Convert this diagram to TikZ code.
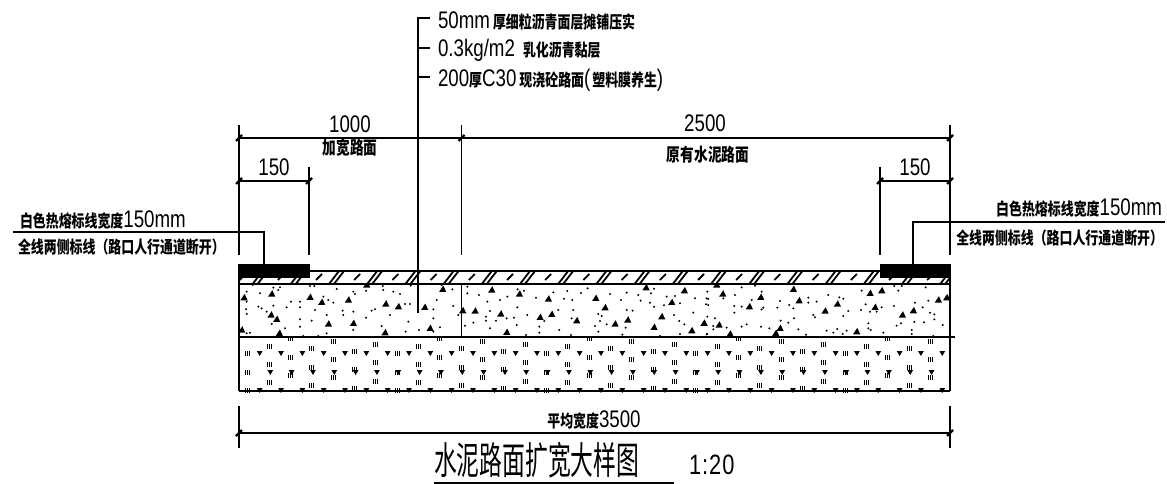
\documentclass[tikz,border=0pt]{standalone}
\usepackage{fontspec}
\newfontfamily\latf[FakeStretch=0.78]{Liberation Sans}
\newfontfamily\cjkf[FakeStretch=0.76]{Noto Sans CJK SC}
\newfontfamily\ttlf[FakeStretch=0.6]{Noto Sans CJK SC}
\newcommand\LT[2][24]{{\fontsize{#1}{#1}\selectfont\latf #2}}
\newcommand\CT[2][17]{{\fontsize{#1}{#1}\selectfont\cjkf\bfseries #2}}
\tikzset{
  ln/.style={line width=1.7pt,black},
  thin ln/.style={line width=1.8pt,black},
  dimtick/.style={line width=2.4pt,black},
  lbl/.style={inner sep=0pt,outer sep=0pt,anchor=west,text=black},
  cl/.style={inner sep=0pt,outer sep=0pt,anchor=center,text=black},
}
\newcommand\dtick[2]{\draw[dimtick] (#1-3,#2+3) -- (#1+3,#2-3);}
\begin{document}
\begin{tikzpicture}[x=1pt,y=-1pt]
\useasboundingbox (0,0) rectangle (1167,484);
\fill[white] (0,0) rectangle (1167,484);

% ---- hatch layer
\begin{scope}
\clip (239,271) rectangle (950,284);
\foreach \k in {-3,...,17}{
  \pgfmathsetmacro\xx{335+38.2*\k}
  \draw[thin ln] ({\xx-6},284) -- ({\xx+4},271);
  \draw[thin ln] ({\xx-1},284) -- ({\xx+9},271);
  \draw[thin ln] ({\xx-19},280) -- ({\xx-13},274);
}
\end{scope}

% ---- upper concrete aggregate
\begin{scope}
\clip (239,284) rectangle (950,337);
\foreach \a/\b in {72/143,155/132,153/195,170/208,178/250,270/142,305/157,385/150,325/222,400/220,440/105,497/162,535/170,495/248,614/172,630/235,668/118,728/182,65/240}
  \fill ({220+\a/3},{250+\b/3}) ++(-3.6,2.6) -- ++(7.2,0) -- ++(-3,-6.4) -- cycle;
\foreach \a/\b in {125/90,208/102,295/117,437/115,465/143,75/153,152/162,305/163,270/172,380/182,533/180,495/192,635/170,612/202,665/127,703/92,588/83,762/190,725/212,170/217}
  \fill ({450+\a/3},{260+\b/3}) ++(-3.6,2.6) -- ++(7.2,0) -- ++(-3,-6.4) -- cycle;
\foreach \a/\b in {68/102,182/112,148/140,280/88,297/122,375/153,412/132,510/100,545/92,525/142,607/165,640/152,715/120,740/113,12/190,57/195,90/222,227/220,240/205,470/215,50/75}
  \fill ({700+\a/3},{260+\b/3}) ++(-3.6,2.6) -- ++(7.2,0) -- ++(-3,-6.4) -- cycle;
\foreach \a/\b in {80/125,80/155,120/130,180/112,160/113,98/105,175/120,270/108,283/108,350/117,400/125,405/132,438/122,488/108,490/120,520/125,540/132,572/107,650/150,665/105,697/118,213/155,200/172,240/155,240/172,285/180,310/140,325/150,340/158,115/170,125/175,160/167,140/185,78/178,80/192,240/208,275/212,320/195,368/182,370/195,400/185,438/203,455/182,465/178,555/162,570/162,510/195,565/215,240/230,155/222,195/235,320/250,295/258,400/240,485/228,557/245,597/240,640/205,660/232,700/168,715/195,640/245,90/248,80/250,250/258,525/262,640/178}
  \fill ({220+\a/3},{250+\b/3}) circle (1.15);
\foreach \a/\b in {52/80,52/100,87/105,112/125,150/120,172/110,222/92,203/88,258/113,310/97,352/93,393/99,413/85,342/116,367/120,480/102,530/98,513/120,565/105,572/122,603/100,612/86,600/128,612/140,650/110,675/108,690/130,735/115,770/115,120/153,108/170,108/182,138/182,170/175,192/173,202/142,232/165,370/150,325/150,445/162,455/168,435/198,470/193,445/215,530/150,548/152,527/203,672/165,688/183,703/193,730/158,775/135,45/197,70/188,120/205,200/195,268/200,268/218,328/210,283/183,365/175,363/225,228/225,450/183,517/224,630/228,690/222,772/222,642/136}
  \fill ({450+\a/3},{260+\b/3}) circle (1.15);
\foreach \a/\b in {22/95,25/117,18/133,105/105,125/82,165/77,185/95,155/120,70/115,103/138,125/140,103/158,190/143,185/148,240/123,232/143,268/135,280/145,325/113,325/128,350/125,385/105,418/112,430/116,485/92,497/133,483/150,510/155,530/155,545/142,582/138,595/92,583/78,605/78,677/82,645/128,685/122,668/142,690/158,703/163,703/178,672/187,643/186,603/190,590/197,728/195,22/170,45/175,40/198,40/208,80/203,125/200,140/193,183/200,208/205,242/182,265/188,282/175,295/208,318/224,345/172,340/165,380/212,400/218,412/207,428/222,440/212,430/168,445/153,505/190,505/205,512/210,550/218,635/210,635/222,700/228,20/223}
  \fill ({700+\a/3},{260+\b/3}) circle (1.15);
\end{scope}

% ---- lower base aggregate
\begin{scope}
\clip (239,337) rectangle (950,392);
\foreach \k in {0,...,33}{
  \pgfmathsetmacro\cx{round(248.3+21.33*\k)}
  \pgfmathsetmacro\off{{313,290,268,298,275,306,285}[mod(\k,7)]}
  \foreach \r in {0,1,2}{
    \pgfmathsetmacro\cy{round(250+\off/3+18.3*\r)}
    \foreach \d in {-3,-1,1}
      \fill ({\cx+\d},{\cy-3}) rectangle ({\cx+\d+1.05},{\cy+2});
  }
  \fill ({259.7+21.33*\k-2.9},351) -- ++(5.8,0) -- ++(-2.9,5) -- cycle;
  \fill ({270.3+21.33*\k-2.9},370) -- ++(5.8,0) -- ++(-2.9,5) -- cycle;
  \fill ({259.7+21.33*\k-2.9},388) -- ++(5.8,0) -- ++(-2.9,5) -- cycle;
}
\end{scope}

% ---- layer outlines
\draw[ln] (239,271) -- (950,271);
\draw[ln] (239,284) -- (950,284);
\draw[ln] (239,337) -- (955,337);
\draw[ln] (239,391) -- (950,391);
\draw[ln] (239,264) -- (239,391);
\draw[ln] (950,264) -- (950,391);
\draw[ln] (461.5,284) -- (461.5,337);

% ---- thermal marking bars
\fill[black] (238.5,263.5) rectangle (309.5,278);
\fill[black] (879.5,263.5) rectangle (950.5,278);

% ---- layer leader
\draw[ln] (418,313) -- (418,18) -- (430,18);
\draw[ln] (418,48) -- (430,48);
\draw[ln] (418,77) -- (430,77);
\node[lbl] (t1) at (438,21) {\LT{50mm}\hspace{3pt}\CT{厚细粒沥青面层摊铺压实}};
\node[lbl] (t2) at (438,50) {\LT{0.3kg/m2}\hspace{8pt}\CT{乳化沥青黏层}};
\node[lbl] (t3) at (438,80) {\LT{200}\CT{厚}\LT{C30}\hspace{3pt}\CT{现浇砼路面}\LT{(}\hspace{2pt}\CT{塑料膜养生}\LT{)}};

% ---- dimensions
\draw[ln] (239,125) -- (239,255);
\draw[ln] (950,125) -- (950,255);
\draw[ln] (461.5,125) -- (461.5,255);
\draw[ln] (309,167) -- (309,255);
\draw[ln] (880,167) -- (880,255);
\draw[ln] (239,138) -- (950,138);
\draw[ln] (239,181) -- (309,181);
\draw[ln] (880,181) -- (950,181);
\dtick{239}{138}\dtick{461.5}{138}\dtick{950}{138}
\dtick{239}{181}\dtick{309}{181}\dtick{880}{181}\dtick{950}{181}
\node[cl] (d1000) at (350,124) {\LT{1000}};
\node[cl] (d2500) at (705,123) {\LT{2500}};
\node[cl] (dl150) at (274,167) {\LT{150}};
\node[cl] (dr150) at (915,167) {\LT{150}};
\node[cl] (wide) at (350,148) {\CT[18]{加宽路面}};
\node[cl] (orig) at (708,155) {\CT[18]{原有水泥路面}};

% ---- marking leaders
\draw[ln] (13,232) -- (264,232) -- (264,264);
\draw[ln] (1165,222) -- (913,222) -- (913,264);
\node[lbl] (ml1) at (20,220) {\CT{白色热熔标线宽度}\LT{150mm}};
\node[lbl] (ml2) at (18,247) {\CT{全线两侧标线（路口人行通道断开）}};
\node[lbl,anchor=east] (mr1) at (1162,208) {\CT{白色热熔标线宽度}\LT{150mm}};
\node[lbl,anchor=east] (mr2) at (1163,238) {\CT{全线两侧标线（路口人行通道断开）}};

% ---- overall dimension
\draw[ln] (239,406) -- (239,448);
\draw[ln] (950,406) -- (950,448);
\draw[ln] (239,433) -- (950,433);
\dtick{239}{433}\dtick{950}{433}
\node[cl] (avg) at (594,420) {\CT{平均宽度}\LT{3500}};

% ---- title
\node[lbl] (title) at (434,460) {{\fontsize{38}{38}\selectfont\ttlf 水泥路面扩宽大样图}};
\node[lbl] (scale) at (689,465) {\LT[28]{1\hspace{1pt}:\hspace{1pt}2\hspace{1pt}0}};
\draw[line width=1.7pt] (434,482.8) -- (674,482.8);
\end{tikzpicture}
\end{document}
